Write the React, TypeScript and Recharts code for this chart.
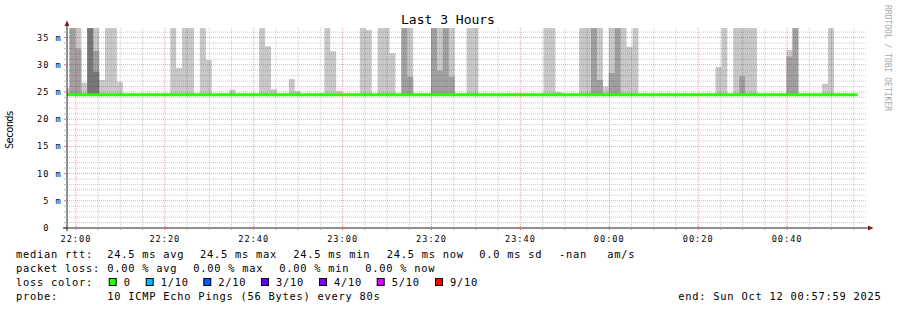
import React from "react";
import { ComposedChart, Area, Line, XAxis, YAxis, CartesianGrid } from "recharts";

const MEDIAN_RTT = 24.5; // ms, flat over the whole window
const F = 37; // smoke that runs off the top of the graph

// seconds relative to 22:00:00
const VIEW_START = -121; // 21:57:59
const VIEW_END = 10679; // 00:57:59
const FIRST_STEP = -167;
const STEP = 80;
const LAST_COL = 134; // first step without data

// smoke: column index (80 s steps) and top of each grey shade in ms
const lightCols = [0, 1, 2, 3, 4, 5, 6, 7, 8, 9, 18, 19, 20, 21, 23, 24, 28, 33, 34, 35, 38, 39, 44, 45, 46, 50, 51, 53, 54, 55, 57, 58, 62, 63, 64, 65, 68, 69, 81, 82, 83, 87, 88, 89, 90, 91, 92, 93, 94, 95, 96, 110, 111, 113, 114, 115, 116, 122, 123, 128, 129];
const lightTop = [25.7, F, F, 26.7, F, F, 27.2, F, F, 26.9, F, 29.4, F, F, F, 30.9, 25.4, F, 33.4, 25.5, 27.4, 25.2, F, 32.5, 25.2, F, 36.4, F, F, 32.1, F, F, F, F, F, F, F, F, F, F, 25.0, F, F, F, F, 26.0, F, F, F, 33.3, F, 29.6, F, F, F, F, F, 32.7, F, 26.5, F];
const midCols = [1, 2, 4, 5, 57, 58, 62, 63, 64, 65, 89, 90, 92, 93, 114, 122, 123];
const midTop = [F, 33.0, F, 32.6, F, 27.8, F, 28.9, F, 27.8, F, 27.2, 28.5, F, 27.9, 31.5, F];
const darkCols = [4, 5];
const darkTop = [F, 28.7];

const timeLabels = ["22:00", "22:20", "22:40", "23:00", "23:20", "23:40", "00:00", "00:20", "00:40"];
const fiveMinTicks = Array.from({ length: 36 }, (_, i) => i * 300);
const msTicks = Array.from({ length: 37 }, (_, i) => i);

const rttStats = ["24.5 ms avg", "24.5 ms max", "24.5 ms min", "24.5 ms now", "0.0 ms sd", "-nan", "am/s"];
const lossStats = ["0.00 % avg", "0.00 % max", "0.00 % min", "0.00 % now"];
const lossLabels = ["0", "1/10", "2/10", "3/10", "4/10", "5/10", "9/10"];
const lossColors = ["#26ff00", "#00b8ff", "#0059ff", "#5e00ff", "#7e00ff", "#dd00ff", "#ff0000"];
const probeText = "10 ICMP Echo Pings (56 Bytes) every 80s";
const endText = "end: Sun Oct 12 00:57:59 2025";

const pick = (cols: number[], tops: number[], j: number) => {
  const i = cols.indexOf(j);
  return i < 0 ? MEDIAN_RTT : tops[i];
};

const rows = Array.from({ length: LAST_COL + 1 }, (_, j) => ({
  t: Math.max(VIEW_START, FIRST_STEP + STEP * j),
  median: MEDIAN_RTT,
  light: pick(lightCols, lightTop, j),
  mid: pick(midCols, midTop, j),
  dark: pick(darkCols, darkTop, j),
}));

const MONO = "'DejaVu Sans Mono', monospace";

function TimeTick(props: any) {
  const { x, y, payload } = props;
  const major = payload.value % 1200 === 0;
  return (
    <g>
      <line x1={x} x2={x} y1={y - (major ? 2 : 0)} y2={y + 2} stroke={major ? "#e07070" : "#aaaaaa"} />
      {major && (
        <text x={x} y={y + 14} textAnchor="middle" fontFamily={MONO} fontSize={8.6} letterSpacing={1.0} fill="#000">
          {timeLabels[payload.value / 1200]}
        </text>
      )}
    </g>
  );
}

function MsTick(props: any) {
  const { x, y, payload } = props;
  const major = payload.value % 5 === 0;
  const label = payload.value === 0 ? " 0  " : `${payload.value} m`.padStart(4, " ");
  return (
    <g>
      <line x1={x - 3} x2={x} y1={y} y2={y} stroke={major ? "#e07070" : "#bbbbbb"} />
      {major && (
        <text x={x - 30} y={y + 3} fontFamily={MONO} fontSize={8.6} letterSpacing={1.0} fill="#000" style={{ whiteSpace: "pre" }}>
          {label}
        </text>
      )}
    </g>
  );
}

export default function App() {
  const line1 = [107.3, 200, 293.3, 386.7, 479.3, 559, 607.3];
  const line2 = [107.3, 193.3, 279.3, 365.3];
  const boxes = [108.7, 145.7, 203.3, 261, 319, 376.7, 435];
  const legendFont = { fontFamily: MONO, fontSize: 10.4, letterSpacing: 0.75, fill: "#000" };

  return (
    <div style={{ position: "absolute", left: 0, top: 0, width: 897, height: 310, background: "#fff" }}>
      <ComposedChart width={897} height={310} data={rows} margin={{ top: 28, right: 30, bottom: 62, left: 7 }}>
        <XAxis
          dataKey="t"
          type="number"
          domain={[VIEW_START, VIEW_END]}
          allowDataOverflow
          ticks={fiveMinTicks}
          interval={0}
          tick={<TimeTick />}
          tickLine={false}
          tickSize={0}
          tickMargin={0}
          height={20}
          axisLine={{ stroke: "#222" }}
        />
        <YAxis
          type="number"
          domain={[0, 36.76]}
          allowDataOverflow
          ticks={msTicks}
          interval={0}
          tick={<MsTick />}
          tickLine={false}
          tickSize={0}
          tickMargin={0}
          width={60}
          axisLine={{ stroke: "#222" }}
        />
        <Area type="stepAfter" dataKey="light" baseValue={MEDIAN_RTT} stroke="none" fill="#c8c8c8" fillOpacity={1} dot={false} activeDot={false} isAnimationActive={false} />
        <Area type="stepAfter" dataKey="mid" baseValue={MEDIAN_RTT} stroke="none" fill="#a0a0a0" fillOpacity={1} dot={false} activeDot={false} isAnimationActive={false} />
        <Area type="stepAfter" dataKey="dark" baseValue={MEDIAN_RTT} stroke="none" fill="#787878" fillOpacity={1} dot={false} activeDot={false} isAnimationActive={false} />
        <CartesianGrid
          stroke="rgba(0,0,0,0.2)"
          strokeDasharray="1 1"
          horizontalValues={msTicks.filter((v) => v % 5 !== 0)}
          verticalValues={fiveMinTicks.filter((v) => v % 1200 !== 0)}
          zIndex={500}
        />
        <CartesianGrid
          stroke="rgba(230,0,0,0.38)"
          strokeDasharray="1 1"
          horizontalValues={msTicks.filter((v) => v % 5 === 0 && v > 0)}
          verticalValues={fiveMinTicks.filter((v) => v % 1200 === 0)}
          zIndex={501}
        />
        <Line type="stepAfter" dataKey="median" stroke="#26ff00" strokeWidth={3} dot={false} activeDot={false} isAnimationActive={false} />
      </ComposedChart>

      <svg width={897} height={310} style={{ position: "absolute", left: 0, top: 0, pointerEvents: "none" }}>
        <text x={448} y={24} textAnchor="middle" fontFamily={MONO} fontSize={13} fill="#000">
          Last 3 Hours
        </text>
        <text transform="translate(13,130) rotate(-90)" textAnchor="middle" fontFamily={MONO} fontSize={10.5} letterSpacing={-0.9} fill="#000">
          Seconds
        </text>
        <text transform="translate(885,5) rotate(90)" fontFamily={MONO} fontSize={8} fill="#a8a8a8">
          RRDTOOL / TOBI OETIKER
        </text>
        {/* axis arrows */}
        <line x1={67} x2={67} y1={28} y2={24} stroke="#222" />
        <line x1={63} x2={67} y1={228} y2={228} stroke="#222" />
        <line x1={67} x2={67} y1={228} y2={231} stroke="#222" />
        <polygon points="64.5,26 69.5,26 67,20.5" fill="#7f1f1f" />
        <line x1={867} x2={869} y1={228} y2={228} stroke="#222" />
        <polygon points="868,225.5 868,230.5 873.5,228" fill="#7f1f1f" />

        <text x={16} y={258.3} {...legendFont}>median rtt:</text>
        {rttStats.map((s, i) => (
          <text key={s + i} x={line1[i]} y={258.3} {...legendFont}>{s}</text>
        ))}
        <text x={16} y={272} {...legendFont}>packet loss:</text>
        {lossStats.map((s, i) => (
          <text key={s + i} x={line2[i]} y={272} {...legendFont}>{s}</text>
        ))}
        <text x={16} y={286} {...legendFont}>loss color:</text>
        {lossLabels.map((s, i) => (
          <g key={s}>
            <rect x={boxes[i] + 0.5} y={278.5} width={7} height={7} fill={lossColors[i]} stroke="#000" strokeWidth={1} />
            <text x={boxes[i] + 15} y={286} {...legendFont}>{s}</text>
          </g>
        ))}
        <text x={16} y={299.7} {...legendFont}>probe:</text>
        <text x={107.3} y={299.7} {...legendFont}>{probeText}</text>
        <text x={881.5} y={299.7} textAnchor="end" {...legendFont}>{endText}</text>
      </svg>
    </div>
  );
}
